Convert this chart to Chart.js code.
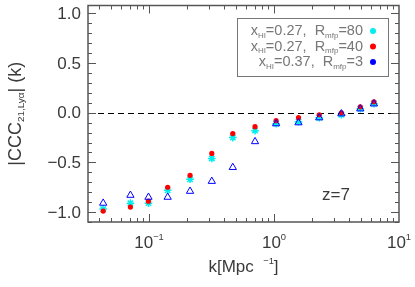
<!DOCTYPE html>
<html>
<head>
<meta charset="utf-8">
<script src="https://cdn.jsdelivr.net/npm/chart.js@4/dist/chart.umd.min.js"></script>
<style>
  html, body { margin: 0; padding: 0; background: #fff; }
  #wrap { width: 415px; height: 287px; }
</style>
</head>
<body>
<div id="wrap"><canvas id="ccc"></canvas></div>
<script>
// k values (Mpc^-1)
const kValues = [0.043, 0.071, 0.099, 0.141, 0.213, 0.318, 0.468, 0.705, 1.04, 1.57, 2.3, 3.46, 4.9, 6.3];
// xHI=0.27, Rmfp=80 (cyan)
const cyanSeries = [-0.97, -0.91, -0.91, -0.78, -0.67, -0.46, -0.25, -0.18, -0.11, -0.09, -0.05, -0.02, 0.04, 0.09];
// xHI=0.27, Rmfp=40 (red)
const redSeries = [-0.99, -0.95, -0.89, -0.75, -0.63, -0.41, -0.21, -0.14, -0.08, -0.05, -0.02, 0.0, 0.06, 0.11];
// xHI=0.37, Rmfp=3 (blue)
const blueSeries = [-0.91, -0.83, -0.85, -0.85, -0.79, -0.69, -0.55, -0.29, -0.11, -0.10, -0.05, -0.01, 0.04, 0.09];
const yTicks = [1.0, 0.5, 0.0, -0.5, -1.0];
const yTickLabels = ['1.0', '0.5', '0.0', '\u22120.5', '\u22121.0'];
const xDecades = [0.1, 1, 10];
const xDecadeExp = ['\u22121', '0', '1'];
const legendRows = [
  { hi: '0.27', mfp: '80', color: '#00eeee' },
  { hi: '0.27', mfp: '40', color: '#ff0000' },
  { hi: '0.37', mfp: '3', color: '#0000ff' }
];

const FONT = '"Liberation Sans", Arial, sans-serif';
const TEXT = '#3a3a3a';

function pts(ys) {
  return kValues.map((k, i) => ({ x: k, y: ys[i] }));
}

// draw a run of text pieces: [str, kind] kind = 'n' | 'sub' | 'sup'
function measureRich(ctx, parts, size) {
  let w = 0;
  parts.forEach(p => {
    const s = p[1] === 'n' ? size : size * 0.55;
    ctx.font = s + 'px ' + FONT;
    w += ctx.measureText(p[0]).width;
  });
  return w;
}
function drawRich(ctx, parts, x, y, size) {
  let cx = x;
  ctx.textBaseline = 'middle';
  ctx.textAlign = 'left';
  parts.forEach(p => {
    let s = size, dy = 0;
    if (p[1] === 'sub') { s = size * 0.55; dy = size * 0.3; }
    if (p[1] === 'sup') { s = size * 0.55; dy = -size * 0.35; }
    ctx.font = s + 'px ' + FONT;
    ctx.fillText(p[0], cx, y + dy);
    cx += ctx.measureText(p[0]).width;
  });
}

const framePlugin = {
  id: 'frame',
  beforeDatasetsDraw(chart) {
    const { ctx, chartArea: a, scales } = chart;
    const y0 = Math.round(scales.y.getPixelForValue(0)) + 0.5;
    ctx.save();
    ctx.strokeStyle = '#000';
    ctx.lineWidth = 1;
    ctx.setLineDash([6, 4]);
    ctx.beginPath();
    ctx.moveTo(a.left, y0);
    ctx.lineTo(a.right, y0);
    ctx.stroke();
    ctx.restore();
  },
  afterDraw(chart) {
    const { ctx, chartArea: a, scales } = chart;
    const xs = scales.x, ys = scales.y;
    ctx.save();
    ctx.strokeStyle = '#555';
    ctx.lineWidth = 1.5;
    ctx.strokeRect(a.left, a.top, a.right - a.left, a.bottom - a.top);

    ctx.lineWidth = 1;
    ctx.beginPath();
    // y ticks
    for (let i = -11; i <= 10; i++) {
      const v = i / 10;
      const py = Math.round(ys.getPixelForValue(v)) + 0.5;
      const len = (i % 5 === 0) ? 8 : 4;
      ctx.moveTo(a.left, py); ctx.lineTo(a.left + len, py);
      ctx.moveTo(a.right, py); ctx.lineTo(a.right - len, py);
    }
    // x ticks
    [0.01, 0.1, 1].forEach(d => {
      for (let m = 1; m <= 9; m++) {
        const v = d * m;
        if (v < xs.min || v > xs.max) continue;
        const px = Math.round(xs.getPixelForValue(v)) + 0.5;
        const len = m === 1 ? 8 : 4;
        ctx.moveTo(px, a.bottom); ctx.lineTo(px, a.bottom - len);
        ctx.moveTo(px, a.top); ctx.lineTo(px, a.top + len);
      }
    });
    ctx.stroke();

    ctx.fillStyle = TEXT;
    // y tick labels
    ctx.font = '17px ' + FONT;
    ctx.textAlign = 'right';
    ctx.textBaseline = 'middle';
    yTicks.forEach((v, i) => {
      ctx.fillText(yTickLabels[i], a.left - 7, ys.getPixelForValue(v) + 1);
    });
    // x tick labels
    xDecades.forEach((v, i) => {
      const parts = [['10', 'n'], [xDecadeExp[i], 'sup']];
      const w = measureRich(ctx, parts, 17);
      drawRich(ctx, parts, xs.getPixelForValue(v) - w / 2, a.bottom + 21, 17);
    });
    // x title
    const xt = [['k[Mpc  ', 'n'], ['\u22121', 'sup'], [']', 'n']];
    const xw = measureRich(ctx, xt, 17);
    drawRich(ctx, xt, (a.left + a.right) / 2 - xw / 2, 267, 17);

    // y title
    ctx.save();
    ctx.translate(16, (a.top + a.bottom) / 2);
    ctx.rotate(-Math.PI / 2);
    const yt = [['|CCC', 'n'], ['21,Ly\u03b1', 'sub'], ['| (k)', 'n']];
    const yw = measureRich(ctx, yt, 18);
    drawRich(ctx, yt, -yw / 2, 0, 18);
    ctx.restore();

    // z label
    ctx.font = '17px ' + FONT;
    ctx.textAlign = 'center';
    ctx.fillText('z=7', 336, 195);

    // legend
    ctx.strokeStyle = '#777';
    ctx.lineWidth = 1;
    ctx.strokeRect(237.5, 18.5, 151, 58);
    legendRows.forEach((r, i) => {
      const cy = 31 + i * 15.5;
      ctx.fillStyle = '#777';
      const parts = [['x', 'n'], ['HI', 'sub'], ['=' + r.hi + ',  R', 'n'], ['mfp', 'sub'], ['=' + r.mfp, 'n']];
      const w = measureRich(ctx, parts, 14.5);
      drawRich(ctx, parts, 363 - w, cy, 14.5);
      ctx.fillStyle = r.color;
      ctx.beginPath();
      ctx.arc(373, cy, 3, 0, Math.PI * 2);
      ctx.fill();
    });
    ctx.restore();
  }
};

new Chart(document.getElementById('ccc').getContext('2d'), {
  type: 'scatter',
  data: {
    datasets: [
      {
        label: 'xHI=0.37, Rmfp=3',
        data: pts(blueSeries),
        pointStyle: 'triangle',
        pointRadius: 4.2,
        borderColor: '#0000ff',
        backgroundColor: 'rgba(0,0,0,0)',
        borderWidth: 1
      },
      {
        label: 'xHI=0.27, Rmfp=40',
        data: pts(redSeries),
        pointStyle: 'circle',
        pointRadius: 2.6,
        borderColor: '#ff0000',
        backgroundColor: '#ff0000',
        borderWidth: 0
      },
      {
        label: 'xHI=0.27, Rmfp=80',
        data: pts(cyanSeries),
        pointStyle: 'star',
        pointRadius: 3.8,
        borderColor: '#00eeee',
        backgroundColor: '#00eeee',
        borderWidth: 1.5
      }
    ]
  },
  options: {
    responsive: true,
    maintainAspectRatio: false,
    animation: false,
    layout: { padding: { left: 88, right: 16, top: 4, bottom: 65 } },
    plugins: { legend: { display: false }, tooltip: { enabled: false } },
    scales: {
      x: { type: 'logarithmic', min: 0.0325, max: 10, display: false },
      y: { type: 'linear', min: -1.1, max: 1.08, display: false }
    }
  },
  plugins: [framePlugin]
});
</script>
</body>
</html>
